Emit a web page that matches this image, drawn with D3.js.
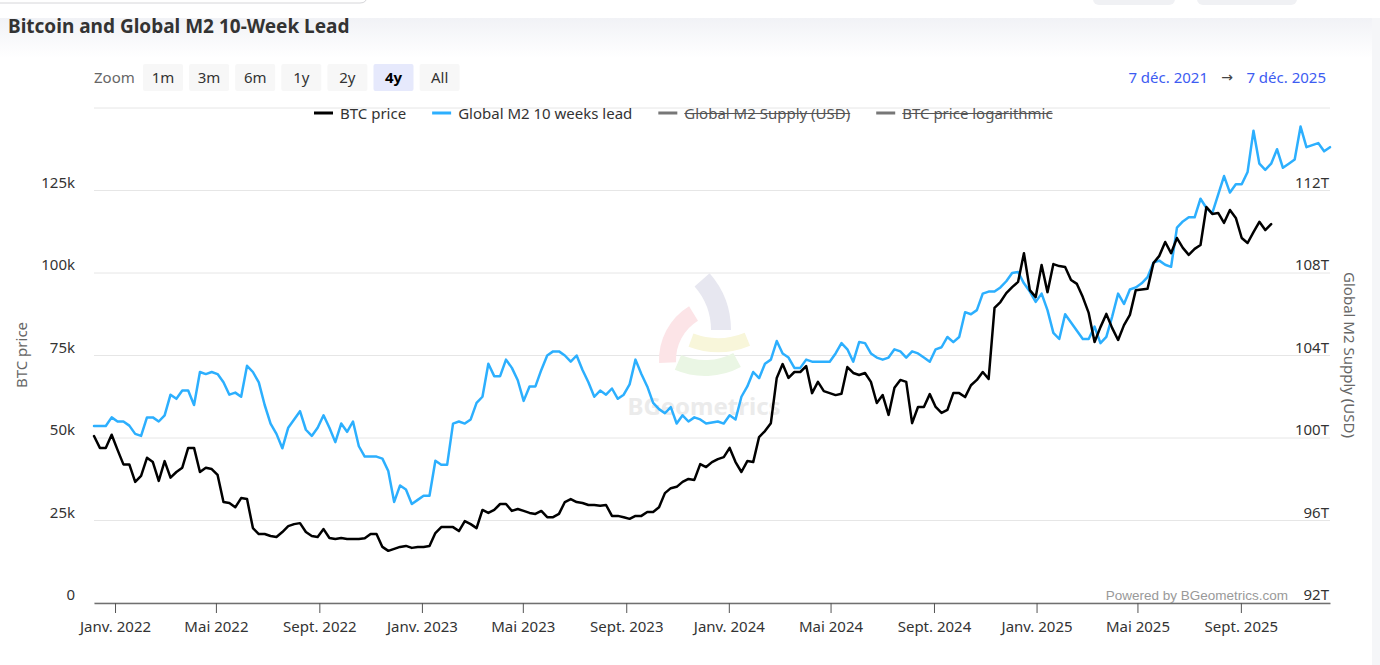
<!DOCTYPE html>
<html><head><meta charset="utf-8">
<script src="https://cdn.jsdelivr.net/npm/d3@7"></script>
<style>
html,body{margin:0;padding:0;background:#fff;overflow:hidden;}
svg{display:block;font-family:"Noto Sans","Open Sans",sans-serif;}
</style></head><body>
<svg id="chart" width="1380" height="665"></svg>
<script>
// ---------------- DATA ----------------
const seriesStart = "2021-12-07";           // first weekly point
// BTC price, weekly, thousands of USD
const btcPrice = [
50.6,47,47,51,46.4,42,42,36.7,38.5,44,
42.7,37,43,38,39.7,41,47,47,39.7,41,
40.6,38.8,30.6,30.3,29,31.8,31.5,22.7,20.9,20.9,
20.3,20,21.5,23.3,23.9,24.2,21.5,20.3,20,22.4,
19.7,19.4,19.7,19.4,19.4,19.4,19.6,20.9,20.9,17,
15.8,16.4,17,17.3,16.7,17,17,17.3,21.2,23,
23,23,21.8,24.8,23.9,22.7,28.2,27.3,28.2,30,
30,27.9,28.5,27.9,27.3,27,27.9,26,26,27,
30.6,31.5,30.6,30.3,29.7,29.7,29.5,29.7,26.4,26.4,
26,25.5,26.4,26.4,27.6,27.6,29,
33.3,34.8,35.2,36.7,37.6,37.3,42.1,41.2,42.7,43.6,
44.2,47,42.7,39.7,43,42.7,50.3,52.1,54.5,68.2,
72.4,68.2,70,70,71.8,63.6,67,64.2,63.6,63,
63.4,71.5,69.7,69.1,69.7,67,60.6,63,57,65.2,
67.6,67,54.5,59.4,59.4,63.3,59.4,57.6,58.5,63.6,
63.6,62.4,66,67.6,70,67.9,89.4,91.2,93.9,95.7,
97.3,106,94.8,92.7,102.4,94.2,102.7,102.1,101.8,97.9,
96.7,92.7,87.9,79.1,83.6,87.6,83.3,79.7,84.2,87.3,
94.8,95,95.2,103,105.2,109.4,106,110.6,107.6,105.5,
107.3,108.5,120,117.9,118.2,115.2,119.1,116.7,110.6,109.1,
112.4,115.5,113,114.8
];
// Global M2 supply shifted 10 weeks forward, weekly, trillions of USD
const m2Lead = [
100.58,100.58,100.58,101.0,100.8,100.8,100.6,100.2,100.1,101.0,
101.0,100.8,101.1,102.1,101.9,102.3,102.3,101.6,103.2,103.1,
103.2,103.1,102.7,102.1,102.2,102.0,103.5,103.2,102.7,101.6,
100.7,100.2,99.5,100.5,100.9,101.3,100.4,100.1,100.5,101.1,
100.5,99.8,100.7,100.3,100.8,99.6,99.1,99.1,99.1,99.0,
98.4,96.9,97.7,97.5,96.8,97.0,97.2,97.2,98.9,98.7,
98.7,100.7,100.8,
100.7,100.9,101.7,102.0,103.6,103.0,103.0,103.8,103.4,102.8,
101.8,102.5,102.5,103.3,104.0,104.2,104.2,104.0,103.7,104.0,
103.3,102.7,102.0,102.3,102.1,102.4,101.9,102.1,102.6,103.8,
103.1,102.5,101.7,101.4,101.2,101.5,100.7,101.1,100.8,101.0,
100.9,100.7,100.75,100.8,100.7,101.1,100.9,102.0,102.5,103.2,
102.9,103.6,103.8,104.7,104.1,103.9,103.4,103.4,103.8,103.7,
103.7,103.7,103.7,104.1,104.6,104.3,103.7,104.65,104.6,104.1,
103.9,103.8,103.9,104.3,104.2,103.9,104.2,104.1,103.9,103.7,
104.3,104.4,104.9,104.65,104.9,106.1,106.0,106.2,107.0,107.1,
107.1,107.3,107.6,108.0,108.05,107.5,107.1,106.6,107.0,106.2,
105.1,104.8,106.0,105.6,105.2,104.8,104.8,105.4,104.6,104.9,
105.9,107.0,106.5,107.2,107.3,107.5,107.8,108.5,108.6,108.4,
108.3,110.2,110.5,110.7,110.7,111.6,111.15,110.9,111.8,112.7,
111.9,112.3,112.3,112.9,114.9,113.3,113.0,113.3,114.0,113.1,
113.3,113.5,115.1,114.1,114.2,114.3,113.9,114.1
];
const leftTicks = [0,25,50,75,100,125,150];          // k USD
const leftTickLabels = ["0","25k","50k","75k","100k","125k",""];
const rightTicks = [92,96,100,104,108,112,116];      // T USD
const rightTickLabels = ["92T","96T","100T","104T","108T","112T",""];
const xTickDates = ["2022-01-01","2022-05-01","2022-09-01","2023-01-01","2023-05-01","2023-09-01",
                    "2024-01-01","2024-05-01","2024-09-01","2025-01-01","2025-05-01","2025-09-01"];
const xTickLabels = ["Janv. 2022","Mai 2022","Sept. 2022","Janv. 2023","Mai 2023","Sept. 2023",
                     "Janv. 2024","Mai 2024","Sept. 2024","Janv. 2025","Mai 2025","Sept. 2025"];
const zoomButtons = ["1m","3m","6m","1y","2y","4y","All"];
const zoomSelected = "4y";
const legendNames = ["BTC price","Global M2 10 weeks lead","Global M2 Supply (USD)","BTC price logarithmic"];
const legendHidden = [false,false,true,true];
const rangeFrom = "7 déc. 2021", rangeTo = "7 déc. 2025";
const titleText = "Bitcoin and Global M2 10-Week Lead";

// ---------------- STYLE ----------------
const legendColors = ["#000000","#2caffe","#777777","#777777"];
const plot = {left:94, right:1330, top:108, bottom:603};

// ---------------- DRAW ----------------
const svg = d3.select("#chart");
const parse = d3.utcParse("%Y-%m-%d");
const t0 = parse(seriesStart);
const btcDates = btcPrice.map((_, i) => d3.utcDay.offset(t0, 7*i));
const m2Dates = m2Lead.map((_, i) => d3.utcDay.offset(t0, 7*i));

const x = d3.scaleUtc().domain([t0, m2Dates[m2Dates.length-1]]).range([plot.left, plot.right]);
const yL = d3.scaleLinear().domain([0,150]).range([plot.bottom, plot.top]);
const yR = d3.scaleLinear().domain([92,116]).range([plot.bottom, plot.top]);

// background
const defs = svg.append("defs");
const g1 = defs.append("linearGradient").attr("id","bg").attr("x1",0).attr("y1",0).attr("x2",0).attr("y2",1);
g1.append("stop").attr("offset","0%").attr("stop-color","#f1f2f6");
g1.append("stop").attr("offset","100%").attr("stop-color","#ffffff");
svg.append("rect").attr("x",0).attr("y",0).attr("width",1380).attr("height",665).attr("fill","#fff");
svg.append("rect").attr("x",0).attr("y",18).attr("width",1380).attr("height",40).attr("fill","url(#bg)");
svg.append("rect").attr("x",1372).attr("y",18).attr("width",8).attr("height",647).attr("fill","#f5f6f8");
// top chrome remnants
svg.append("path").attr("d","M0,3 H360 Q367,3 367,-4").attr("fill","none").attr("stroke","#d6d6d9").attr("stroke-width",1);
svg.append("rect").attr("x",1093).attr("y",-10).attr("width",82).attr("height",15).attr("rx",6).attr("fill","#f0f1f4");
svg.append("rect").attr("x",1197).attr("y",-10).attr("width",100).attr("height",15).attr("rx",6).attr("fill","#f0f1f4");

// title
svg.append("text").attr("x",8).attr("y",33).attr("font-size",19).attr("font-weight",700)
  .attr("fill","#333").text(titleText);

// zoom buttons
svg.append("text").attr("x",94).attr("y",83).attr("font-size",15).attr("fill","#666").text("Zoom");
const zb = svg.append("g").selectAll("g").data(zoomButtons).join("g")
  .attr("transform",(d,i)=>`translate(${143 + i*46.1},64)`);
zb.append("rect").attr("width",40).attr("height",27).attr("rx",2)
  .attr("fill",d=>d===zoomSelected?"#e6e9fc":"#f7f7f7");
zb.append("text").attr("x",20).attr("y",19).attr("text-anchor","middle").attr("font-size",15)
  .attr("font-weight",d=>d===zoomSelected?700:400).attr("fill",d=>d===zoomSelected?"#000":"#333").text(d=>d);

// date range
const rangeColor = "#3d5cf2";
svg.append("text").attr("x",1326).attr("y",83).attr("text-anchor","end").attr("font-size",15).attr("fill",rangeColor).text(rangeTo);
svg.append("text").attr("x",1227).attr("y",82).attr("text-anchor","middle").attr("font-size",14)
  .attr("font-family","DejaVu Sans").attr("fill","#444").text("→");
svg.append("text").attr("x",1208).attr("y",83).attr("text-anchor","end").attr("font-size",15).attr("fill",rangeColor).text(rangeFrom);

// gridlines
svg.append("g").selectAll("line").data(leftTicks).join("line")
  .attr("x1",plot.left).attr("x2",plot.right).attr("y1",d=>yL(d)).attr("y2",d=>yL(d))
  .attr("stroke","#e6e6e6").attr("stroke-width",1);

// watermark (BGeometrics logo)
const wm = svg.append("g");
const arc = d3.arc();
wm.append("path").attr("transform","translate(645,330)")
  .attr("d",arc({innerRadius:66,outerRadius:86,startAngle:0.85,endAngle:1.57})).attr("fill","#e7e7f0");
wm.append("path").attr("transform","translate(722,360)")
  .attr("d",arc({innerRadius:46,outerRadius:63,startAngle:-1.62,endAngle:-0.55})).attr("fill","#fce4e7");
wm.append("path").attr("transform","translate(718,268)")
  .attr("d",arc({innerRadius:70,outerRadius:84,startAngle:2.75,endAngle:3.5})).attr("fill","#f8f6da");
wm.append("path").attr("transform","translate(705,300)")
  .attr("d",arc({innerRadius:60,outerRadius:76,startAngle:2.65,endAngle:3.55})).attr("fill","#eaf6e4");
wm.append("text").attr("x",704).attr("y",415).attr("text-anchor","middle").attr("font-size",24)
  .attr("font-weight",700).attr("fill","#ebebeb").text("BGeometrics");

// x axis
const xAxis = d3.axisBottom(x).tickValues(xTickDates.map(parse))
  .tickFormat((d,i)=>xTickLabels[i]).tickSize(10).tickPadding(8).tickSizeOuter(0);
const gx = svg.append("g").attr("transform",`translate(0,${plot.bottom})`).call(xAxis);
gx.select(".domain").attr("stroke","#707070").attr("stroke-width",1.5);
gx.selectAll(".tick line").attr("stroke","#555").attr("stroke-width",1);
gx.selectAll(".tick text").attr("font-size",15).attr("fill","#333").attr("font-family","Noto Sans");

// left y axis labels
const gl = svg.append("g").attr("transform",`translate(${plot.left},0)`)
  .call(d3.axisLeft(yL).tickValues(leftTicks).tickFormat((d,i)=>leftTickLabels[i]).tickSize(0).tickPadding(19));
gl.select(".domain").remove();
gl.selectAll(".tick text").attr("font-size",15).attr("fill","#333").attr("dy","-0.22em").attr("font-family","Noto Sans");

// right y axis labels (inside the plot, right aligned)
const gr = svg.append("g").attr("transform",`translate(${plot.right+1},0)`)
  .call(d3.axisLeft(yR).tickValues(rightTicks).tickFormat((d,i)=>rightTickLabels[i]).tickSize(0).tickPadding(2));
gr.select(".domain").remove();
gr.selectAll(".tick text").attr("font-size",15).attr("fill","#333").attr("dy","-0.22em").attr("font-family","Noto Sans");

// axis titles
svg.append("text").attr("transform","translate(27,355) rotate(-90)").attr("text-anchor","middle")
  .attr("font-size",15).attr("fill","#666").text("BTC price");
svg.append("text").attr("transform","translate(1344,355) rotate(90)").attr("text-anchor","middle")
  .attr("font-size",15).attr("fill","#666").text("Global M2 Supply (USD)");

// credits
svg.append("text").attr("x",1288).attr("y",600).attr("text-anchor","end").attr("font-size",13.5)
  .attr("font-family","Liberation Sans, Arial, sans-serif").attr("fill","#999").text("Powered by BGeometrics.com");

// series
const lineM2 = d3.line().x((d,i)=>x(m2Dates[i])).y(d=>yR(d));
const lineBtc = d3.line().x((d,i)=>x(btcDates[i])).y(d=>yL(d));
svg.append("path").datum(m2Lead).attr("d",lineM2).attr("fill","none").attr("stroke","#2caffe")
  .attr("stroke-width",2.5).attr("stroke-linejoin","round").attr("stroke-linecap","round");
svg.append("path").datum(btcPrice).attr("d",lineBtc).attr("fill","none").attr("stroke","#000")
  .attr("stroke-width",2.5).attr("stroke-linejoin","round").attr("stroke-linecap","round");

// legend
const lg = svg.append("g");
let lx = 314;
legendNames.forEach((name,i)=>{
  const hidden = legendHidden[i];
  lg.append("line").attr("x1",lx).attr("x2",lx+19).attr("y1",113).attr("y2",113)
    .attr("stroke",legendColors[i]).attr("stroke-width",3);
  const t = lg.append("text").attr("x",lx+26).attr("y",118.5).attr("font-size",15)
    .attr("fill",hidden?"#555":"#333").text(name);
  const w = t.node().getComputedTextLength();
  if (hidden) {
    lg.append("line").attr("x1",lx+26).attr("x2",lx+26+w).attr("y1",113.5).attr("y2",113.5)
      .attr("stroke","#555").attr("stroke-width",1.2);
  }
  lx += 26 + w + 26;
});
</script>
</body></html>
